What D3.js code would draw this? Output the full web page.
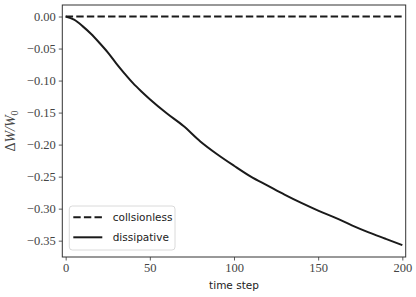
<!DOCTYPE html>
<html><head><meta charset="utf-8">
<script src="https://cdn.jsdelivr.net/npm/d3@7"></script>
<style>body{margin:0;background:#fff}</style>
</head><body>
<svg id="c" width="416" height="297"></svg>
<script>
const steps = [0,5,10,15,20,25,30,35,40,45,50,60,70,80,90,100,110,120,130,140,150,160,170,180,190,200];
const dissipative = [0,-0.005,-0.015,-0.027,-0.041,-0.056,-0.073,-0.089,-0.104,-0.117,-0.129,-0.151,-0.171,-0.195,-0.215,-0.233,-0.250,-0.264,-0.278,-0.291,-0.303,-0.314,-0.326,-0.337,-0.347,-0.357];
const collisionless = steps.map(() => 0);
const xTicks = [0,50,100,150,200];
const yTicks = [0,-0.05,-0.10,-0.15,-0.20,-0.25,-0.30,-0.35];
const seriesNames = ["collsionless","dissipative"];

const svg = d3.select("#c");
const L=62.3, R=405.7, T=5, B=257;
const x = d3.scaleLinear().domain([-2,202]).range([L,R]);
const y = d3.scaleLinear().domain([-0.3755,0.018]).range([B,T]);
const serif = "'Liberation Serif', serif";
const sans = "'DejaVu Sans', sans-serif";

svg.append("rect").attr("x",L).attr("y",T).attr("width",R-L).attr("height",B-T)
  .attr("fill","none").attr("stroke","#333").attr("stroke-width",1);

const fmt = v => (v<0?"\u2212":"") + Math.abs(v).toFixed(2);
const ya = svg.append("g").attr("transform",`translate(${L},0)`)
  .call(d3.axisLeft(y).tickValues(yTicks).tickSize(3.5).tickPadding(3).tickFormat(fmt));
const xa = svg.append("g").attr("transform",`translate(0,${B})`)
  .call(d3.axisBottom(x).tickValues(xTicks).tickSize(3.5).tickPadding(3).tickFormat(d3.format("d")));
[ya,xa].forEach(a=>{
  a.select(".domain").remove();
  a.selectAll("line").attr("stroke","#333").attr("stroke-width",0.8);
  a.selectAll("text").attr("font-family",serif).attr("font-size","12.5px").attr("fill","#444");
});

const line = d3.line().x((d,i)=>x(steps[i])).y(d=>y(d));
svg.append("path").datum(collisionless).attr("d",line).attr("fill","none")
  .attr("stroke","#1a1a1a").attr("stroke-width",2).attr("stroke-dasharray","7.4,3.2");
svg.append("path").datum(dissipative).attr("d",d3.line().curve(d3.curveMonotoneX).x((d,i)=>x(steps[i])).y(d=>y(d))).attr("fill","none")
  .attr("stroke","#1a1a1a").attr("stroke-width",2);

svg.append("text").attr("x",(x(0)+x(200))/2).attr("y",289).attr("text-anchor","middle")
  .attr("font-family",sans).attr("font-size","10.5px").attr("fill","#222").text("time step");
const yl = svg.append("text").attr("transform",`translate(15,${(T+B)/2}) rotate(-90)`)
  .attr("text-anchor","middle").attr("font-family",serif).attr("font-size","14px").attr("fill","#444").attr("font-style","italic");
yl.append("tspan").attr("font-style","normal").text("\u0394");
yl.append("tspan").text("W/W");
yl.append("tspan").attr("font-style","normal").attr("font-size","10px").attr("dy",3).text("0");

const lg = svg.append("g");
lg.append("rect").attr("x",69.3).attr("y",206).attr("width",105.7).attr("height",44).attr("rx",3)
  .attr("fill","#fff").attr("fill-opacity",0.8).attr("stroke","#d0d0d0").attr("stroke-width",0.8);
const rows = [{y:217.3,dash:"7.4,3.2"},{y:237.3,dash:null}];
rows.forEach((r,i)=>{
  lg.append("line").attr("x1",73.3).attr("x2",102.3).attr("y1",r.y).attr("y2",r.y)
    .attr("stroke","#1a1a1a").attr("stroke-width",2).attr("stroke-dasharray",r.dash);
  lg.append("text").attr("x",112.7).attr("y",r.y+4).attr("font-family",sans).attr("font-size","10.5px")
    .attr("fill","#222").text(seriesNames[i]);
});
</script>
</body></html>
